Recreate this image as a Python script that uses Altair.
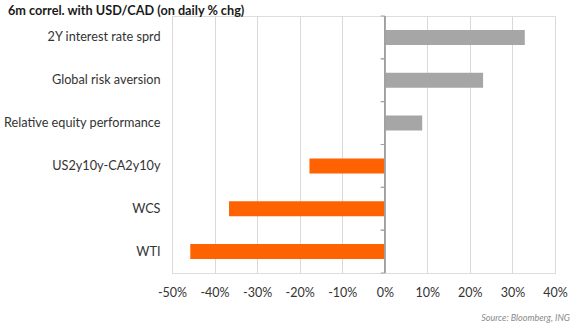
import altair as alt
import pandas as pd

categories = ["2Y interest rate sprd", "Global risk aversion", "Relative equity performance",
              "US2y10y-CA2y10y", "WCS", "WTI"]
values = [0.329, 0.231, 0.088, -0.177, -0.366, -0.457]
x_ticks = [-0.5, -0.4, -0.3, -0.2, -0.1, 0.0, 0.1, 0.2, 0.3, 0.4]

df = pd.DataFrame({"cat": categories, "val": values})
df["sign"] = ["pos" if v >= 0 else "neg" for v in values]

FONT = "Lato"
W, H = 383, 257

xscale = alt.Scale(domain=[-0.5, 0.4], nice=False, zero=False)
yscale = alt.Scale(domain=categories, paddingInner=0, paddingOuter=0)

base = alt.Chart(df)

bars = base.mark_bar(size=15).encode(
    y=alt.Y("cat:N", scale=yscale, sort=categories,
            axis=alt.Axis(title=None, domain=False, ticks=False, labelPadding=12,
                          labelFontSize=12.7, labelColor="#333333", labelFont=FONT,
                          labelLimit=200)),
    x=alt.X("val:Q", scale=xscale,
            axis=alt.Axis(title=None, format=".0%", values=x_ticks, domain=False, ticks=False,
                          grid=True, gridColor="#d9d9d9", labelPadding=13, labelOverlap=False,
                          labelFlush=False,
                          labelExpr="replace(datum.label, '\u2212', '-')",
                          labelFontSize=12.5, labelColor="#333333", labelFont=FONT)),
    color=alt.Color("sign:N", scale=alt.Scale(domain=["pos", "neg"], range=["#a6a6a6", "#ff6200"]),
                    legend=None),
)

zero = base.mark_rule(color="#a0a0a0", strokeWidth=1).encode(
    x=alt.datum(0, scale=xscale),
)

ticks_top = base.mark_rule(color="#a0a0a0", strokeWidth=1, xOffset=-4, x2Offset=0).encode(
    y=alt.Y("cat:N", scale=yscale, sort=categories, bandPosition=0),
    x=alt.datum(0, scale=xscale),
    x2=alt.datum(0),
)
ticks_bot = base.mark_rule(color="#a0a0a0", strokeWidth=1, xOffset=-4, x2Offset=0).encode(
    y=alt.Y("cat:N", scale=yscale, sort=categories, bandPosition=1),
    x=alt.datum(0, scale=xscale),
    x2=alt.datum(0),
)

source = alt.Chart(pd.DataFrame({"t": ["Source: Bloomberg, ING"]})).mark_text(
    align="right", baseline="middle", font=FONT, fontSize=9, fontStyle="italic", color="#8a8a8a"
).encode(text="t:N", x=alt.value(W + 15), y=alt.value(H + 45))

chart = alt.layer(bars, zero, ticks_top, ticks_bot, source).properties(
    width=W, height=H,
    autosize=alt.AutoSizeParams(type="none"),
    padding={"left": 172, "top": 16, "right": 32, "bottom": 54},
    title=alt.TitleParams("6m correl. with USD/CAD (on daily % chg)", anchor="start",
                          frame="group", font=FONT, fontSize=12.7, fontWeight="bold",
                          color="#1a1a1a", dx=-164, offset=0, dy=2),
).configure_view(stroke=None).configure(background="white")

chart.save("out.html", embed_options={"renderer": "svg", "actions": False})
